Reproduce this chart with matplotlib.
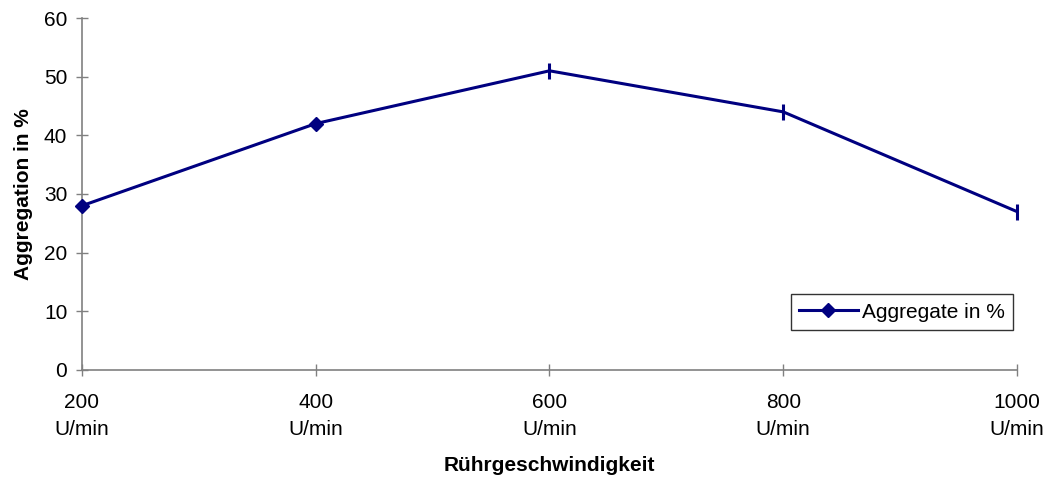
import matplotlib
matplotlib.use("Agg")
import matplotlib.pyplot as plt

plt.rcParams['font.family'] = ['Liberation Sans', 'DejaVu Sans']

# Daten
drehzahl = [200, 400, 600, 800, 1000]
aggregate = [28, 42, 51, 44, 27]
tick_labels = ["200\nU/min", "400\nU/min", "600\nU/min", "800\nU/min", "1000\nU/min"]

farbe = '#000080'
fs = 15

fig = plt.figure(figsize=(10.48, 4.79), dpi=100)
ax = fig.add_axes([0.0782, 0.2276, 0.8922, 0.7348])

# Linie, Rauten an den ersten beiden Punkten, Striche an den übrigen
ax.plot(drehzahl, aggregate, color=farbe, linewidth=2.2, marker='D', markersize=7.6,
        markevery=[0, 1], label='Aggregate in %', clip_on=False, zorder=3)
ax.plot(drehzahl[2:], aggregate[2:], linestyle='none', marker='|', markersize=11,
        markeredgewidth=2.2, color=farbe, clip_on=False, zorder=3)

ax.set_xlim(200, 1000)
ax.set_ylim(0, 60)
ax.set_yticks(range(0, 61, 10))
ax.set_xticks(drehzahl)
ax.set_xticklabels(tick_labels, fontsize=fs, linespacing=1.55)
ax.tick_params(axis='y', labelsize=fs, direction='inout', length=9, width=1,
               color='#808080', pad=6)
ax.tick_params(axis='x', direction='inout', length=9, width=1,
               color='#808080', pad=12)

for s in ['top', 'right']:
    ax.spines[s].set_visible(False)
for s in ['left', 'bottom']:
    ax.spines[s].set_color('#808080')
    ax.spines[s].set_linewidth(1.2)

ax.set_xlabel('Rührgeschwindigkeit', fontsize=fs, fontweight='bold', labelpad=12)
ax.set_ylabel('Aggregation in %', fontsize=fs, fontweight='bold', labelpad=8)

leg = ax.legend(loc='lower right', bbox_to_anchor=(0.9957, 0.1136), fontsize=fs,
                frameon=True, fancybox=False, edgecolor='black', handlelength=2.8,
                borderpad=0.4, handletextpad=0.2, borderaxespad=0)
leg.get_frame().set_linewidth(1)

fig.savefig('out.png', dpi=100)
